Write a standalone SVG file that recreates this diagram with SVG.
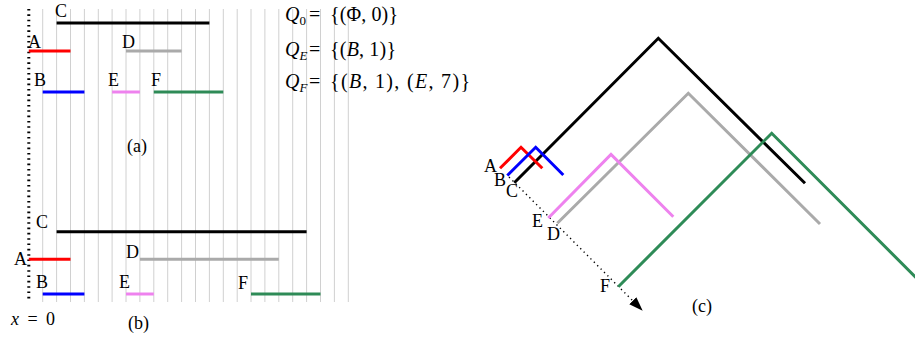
<svg xmlns="http://www.w3.org/2000/svg" width="915" height="339" viewBox="0 0 915 339">
<style>
text{font-family:"Liberation Serif","DejaVu Serif",serif;font-size:18px;fill:#000}
.f{font-size:20px}
.it{font-style:italic}
.sub{font-size:13px}
.iv{stroke-width:3;fill:none;stroke-linecap:butt}
.tent{stroke-width:3;fill:none;stroke-linejoin:miter}
.red{stroke:#ff0000}.blue{stroke:#0000ff}.black{stroke:#000}.gray{stroke:#aaaaaa}.violet{stroke:#ee82ee}.green{stroke:#2e8b57}
</style>
<defs>
<marker id="arr" viewBox="0 0 14 10" refX="0" refY="5" markerWidth="14" markerHeight="10" markerUnits="userSpaceOnUse" orient="auto">
<path d="M0,0 L14,5 L0,10 Z" fill="#000"/>
</marker>
</defs>
<rect width="915" height="339" fill="#fff"/>
<!-- grid -->
<path id="grid" stroke="#d0d0d0" stroke-width="1" fill="none" d="M42.7,9V302M56.6,9V302M70.5,9V302M84.4,9V302M98.3,9V302M112.1,9V302M126,9V302M139.9,9V302M153.8,9V302M167.7,9V302M181.6,9V302M195.5,9V302M209.4,9V302M223.3,9V302M237.2,9V302M251,9V302M264.9,9V302M278.8,9V302M292.7,9V302M306.6,9V302M320.5,9V302M334.4,9V302M348.3,9V302"/>
<line id="axis" x1="28.8" y1="9" x2="28.8" y2="302" stroke="#000" stroke-width="3" stroke-dasharray="1.6 3.73"/>
<!-- panel (a) -->
<g id="a-C"><line class="iv black" x1="56.6" y1="23" x2="209.4" y2="23"/><text x="55" y="17">C</text></g>
<g id="a-A"><line class="iv red" x1="28.8" y1="51" x2="70.5" y2="51"/><text x="28" y="48">A</text></g>
<g id="a-D"><line class="iv gray" x1="126" y1="51" x2="181.6" y2="51"/><text x="122" y="48">D</text></g>
<g id="a-B"><line class="iv blue" x1="42.7" y1="92" x2="84.4" y2="92"/><text x="34" y="86">B</text></g>
<g id="a-E"><line class="iv violet" x1="112.1" y1="92" x2="139.9" y2="92"/><text x="108" y="86">E</text></g>
<g id="a-F"><line class="iv green" x1="153.8" y1="92" x2="223.3" y2="92"/><text x="151" y="86">F</text></g>
<text x="127" y="152">(a)</text>
<!-- formulas -->
<text class="f" x="285" y="21"><tspan class="it">Q</tspan><tspan class="sub" dy="4">0</tspan><tspan dy="-4" x="309">=</tspan></text>
<text class="f" x="330" y="21" textLength="68" lengthAdjust="spacing">{(Φ, 0)}</text>
<text class="f" x="285" y="56"><tspan class="it">Q</tspan><tspan class="it sub" dy="4">E</tspan><tspan dy="-4" x="309">=</tspan></text>
<text class="f" x="330" y="56" textLength="66" lengthAdjust="spacing">{(<tspan class="it">B</tspan>, 1)}</text>
<text class="f" x="285" y="88"><tspan class="it">Q</tspan><tspan class="it sub" dy="4">F</tspan><tspan dy="-4" x="309">=</tspan></text>
<text class="f" x="330" y="88" textLength="140" lengthAdjust="spacing">{(<tspan class="it">B</tspan>, 1), (<tspan class="it">E</tspan>, 7)}</text>
<!-- panel (b) -->
<g id="b-C"><line class="iv black" x1="56.6" y1="231.7" x2="306.6" y2="231.7"/><text x="36" y="228">C</text></g>
<g id="b-A"><line class="iv red" x1="28.8" y1="259.3" x2="70.5" y2="259.3"/><text x="14" y="265">A</text></g>
<g id="b-D"><line class="iv gray" x1="139.9" y1="259.3" x2="278.8" y2="259.3"/><text x="126" y="258">D</text></g>
<g id="b-B"><line class="iv blue" x1="42.7" y1="294" x2="84.4" y2="294"/><text x="36" y="288">B</text></g>
<g id="b-E"><line class="iv violet" x1="126" y1="294" x2="153.8" y2="294"/><text x="119" y="288">E</text></g>
<g id="b-F"><line class="iv green" x1="251" y1="294" x2="320.5" y2="294"/><text x="238" y="289">F</text></g>
<text x="11" y="325" textLength="44" lengthAdjust="spacing"><tspan class="it">x</tspan> = 0</text>
<text x="128" y="329">(b)</text>
<!-- panel (c) -->
<g id="connectors">
<line x1="509" y1="177" x2="632.8" y2="300.8" stroke="#000" stroke-width="1.4" stroke-dasharray="1.3 3.5" marker-end="url(#arr)"/>
</g>
<g id="c-C"><polyline class="tent black" points="514.3,182.8 658.3,38.3 805,183.3"/><text x="506" y="197">C</text></g>
<g id="c-D"><polyline class="tent gray" points="557.3,223.3 688.3,93.3 820,224"/><text x="547" y="240">D</text></g>
<g id="c-F"><polyline class="tent green" points="618.3,286.7 771.7,133.3 925,286.6"/><text x="600" y="292">F</text></g>
<g id="c-E"><polyline class="tent violet" points="548.3,218 611,154.5 673.3,216.7"/><text x="532" y="227">E</text></g>
<g id="c-A"><polyline class="tent red" points="500,168.3 521,147.3 542.3,168.3"/><text x="484" y="172">A</text></g>
<g id="c-B"><polyline class="tent blue" points="507.3,175.5 535.7,147.3 563.3,175"/><text x="494" y="186">B</text></g>
<text x="692" y="312">(c)</text>
</svg>
